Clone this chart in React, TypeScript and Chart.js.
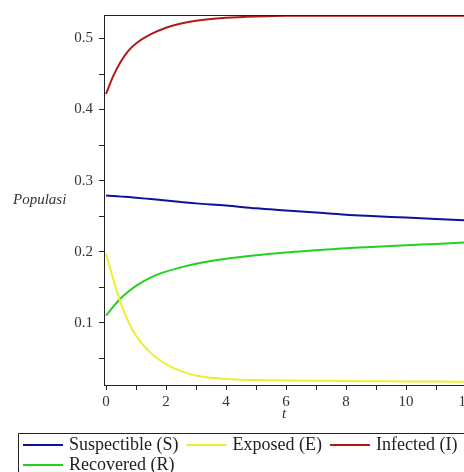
import React, { useEffect, useRef } from "react";
import { Chart, registerables } from "chart.js";

Chart.register(...registerables);

const T = [0, 0.25, 0.5, 0.75, 1, 1.5, 2, 2.5, 3, 4, 5, 6, 7, 8, 9, 10, 11, 12];
const S_VALUES = [0.279, 0.2783, 0.2775, 0.2768, 0.276, 0.274, 0.272, 0.270, 0.268, 0.265, 0.261, 0.258, 0.255, 0.252, 0.250, 0.248, 0.246, 0.244];
const E_VALUES = [0.197, 0.160, 0.127, 0.101, 0.082, 0.057, 0.042, 0.032, 0.026, 0.021, 0.0195, 0.019, 0.0185, 0.018, 0.0178, 0.0175, 0.0173, 0.0172];
const I_VALUES = [0.422, 0.448, 0.468, 0.483, 0.493, 0.506, 0.515, 0.521, 0.525, 0.529, 0.531, 0.532, 0.532, 0.532, 0.532, 0.532, 0.532, 0.532];
const R_VALUES = [0.110, 0.123, 0.135, 0.144, 0.152, 0.164, 0.172, 0.178, 0.183, 0.190, 0.195, 0.199, 0.202, 0.205, 0.207, 0.209, 0.211, 0.213];

const SERIES_LABELS = ["Suspectible (S)", "Exposed (E)", "Infected (I)", "Recovered (R)"];
const SERIES_COLORS = ["#10109a", "#eeee30", "#b41818", "#22d022"];

const X_TICKS = [0, 1, 2, 3, 4, 5, 6, 7, 8, 9, 10, 11, 12];
const Y_TICKS = [0.05, 0.1, 0.15, 0.2, 0.25, 0.3, 0.35, 0.4, 0.45, 0.5];
const X_TITLE = "t";
const Y_TITLE = "Populasi";

const SERIF = "'Liberation Serif', 'Times New Roman', serif";

const extras = {
  id: "extras",
  afterDraw(chart: any) {
    const ctx = chart.ctx;
    const a = chart.chartArea;
    ctx.save();
    // top frame line
    ctx.strokeStyle = "#222";
    ctx.lineWidth = 1;
    ctx.beginPath();
    ctx.moveTo(a.left, Math.round(a.top) + 0.5);
    ctx.lineTo(a.right, Math.round(a.top) + 0.5);
    ctx.stroke();
    // axis titles
    ctx.fillStyle = "#333";
    ctx.font = "italic 15px " + SERIF;
    ctx.textBaseline = "middle";
    ctx.textAlign = "left";
    ctx.fillText(Y_TITLE, 13, 200);
    ctx.textAlign = "center";
    ctx.fillText(X_TITLE, (a.left + a.right) / 2, 414);
    // legend
    const boxLeft = 18.5, boxTop = 433.5;
    ctx.strokeStyle = "#222";
    ctx.beginPath();
    ctx.rect(boxLeft, boxTop, 500, 100);
    ctx.stroke();
    ctx.font = "18px " + SERIF;
    ctx.textAlign = "left";
    let x = 23;
    let y = 445;
    chart.data.datasets.forEach((ds: any) => {
      const w = ctx.measureText(ds.label).width;
      if (x + 46 + w > 462) {
        x = 23;
        y += 20;
      }
      ctx.strokeStyle = ds.borderColor;
      ctx.lineWidth = 2;
      ctx.beginPath();
      ctx.moveTo(x, y);
      ctx.lineTo(x + 40, y);
      ctx.stroke();
      ctx.fillStyle = "#222";
      ctx.fillText(ds.label, x + 46, y);
      x += 46 + w + 8;
    });
    ctx.restore();
  },
};

export default function App() {
  const ref = useRef<HTMLCanvasElement | null>(null);
  useEffect(() => {
    if (!ref.current) return;
    const series = [S_VALUES, E_VALUES, I_VALUES, R_VALUES];
    const chart = new Chart(ref.current, {
      type: "line",
      data: {
        datasets: series.map((vals, i) => ({
          label: SERIES_LABELS[i],
          data: T.map((t, j) => ({ x: t, y: vals[j] })),
          borderColor: SERIES_COLORS[i],
          backgroundColor: SERIES_COLORS[i],
          borderWidth: 2,
          pointRadius: 0,
          fill: false,
          cubicInterpolationMode: "monotone",
        })),
      },
      options: {
        animation: false,
        responsive: false,
        layout: { padding: { top: 15, left: 0, right: 0, bottom: 0 } },
        plugins: { legend: { display: false }, tooltip: { enabled: false } },
        scales: {
          x: {
            type: "linear",
            min: -0.067,
            max: 11.933,
            afterBuildTicks: (s: any) => {
              s.ticks = X_TICKS.map((v) => ({ value: v }));
            },
            afterFit: (s: any) => {
              s.height = 87;
              s.paddingLeft = 0;
              s.paddingRight = 0;
            },
            ticks: {
              autoSkip: false,
              maxRotation: 0,
              padding: 3,
              color: "#333",
              font: { size: 15, family: SERIF },
              callback: (v: any) => (Number(v) % 2 === 0 ? String(v) : ""),
            },
            grid: { drawOnChartArea: false, drawTicks: true, tickLength: 5, tickColor: "#222", color: "#222" },
            border: { display: true, color: "#222", width: 1 },
          },
          y: {
            type: "linear",
            min: 0.0125,
            max: 0.533,
            afterBuildTicks: (s: any) => {
              s.ticks = Y_TICKS.map((v) => ({ value: v }));
            },
            afterFit: (s: any) => {
              s.width = 104;
              s.paddingTop = 0;
              s.paddingBottom = 0;
            },
            ticks: {
              autoSkip: false,
              padding: 6,
              color: "#333",
              font: { size: 15, family: SERIF },
              callback: (v: any) => {
                const n = Number(v) * 10;
                return Math.abs(n - Math.round(n)) < 1e-6 ? Number(v).toFixed(1) : "";
              },
            },
            grid: { drawOnChartArea: false, drawTicks: true, tickLength: 5, tickColor: "#222", color: "#222" },
            border: { display: true, color: "#222", width: 1 },
          },
        },
      },
      plugins: [extras],
    } as any);
    return () => chart.destroy();
  }, []);
  return (
    <div style={{ position: "fixed", left: 0, top: 0, width: 464, height: 472, background: "#fff" }}>
      <canvas ref={ref} width={464} height={472} style={{ display: "block" }} />
    </div>
  );
}
